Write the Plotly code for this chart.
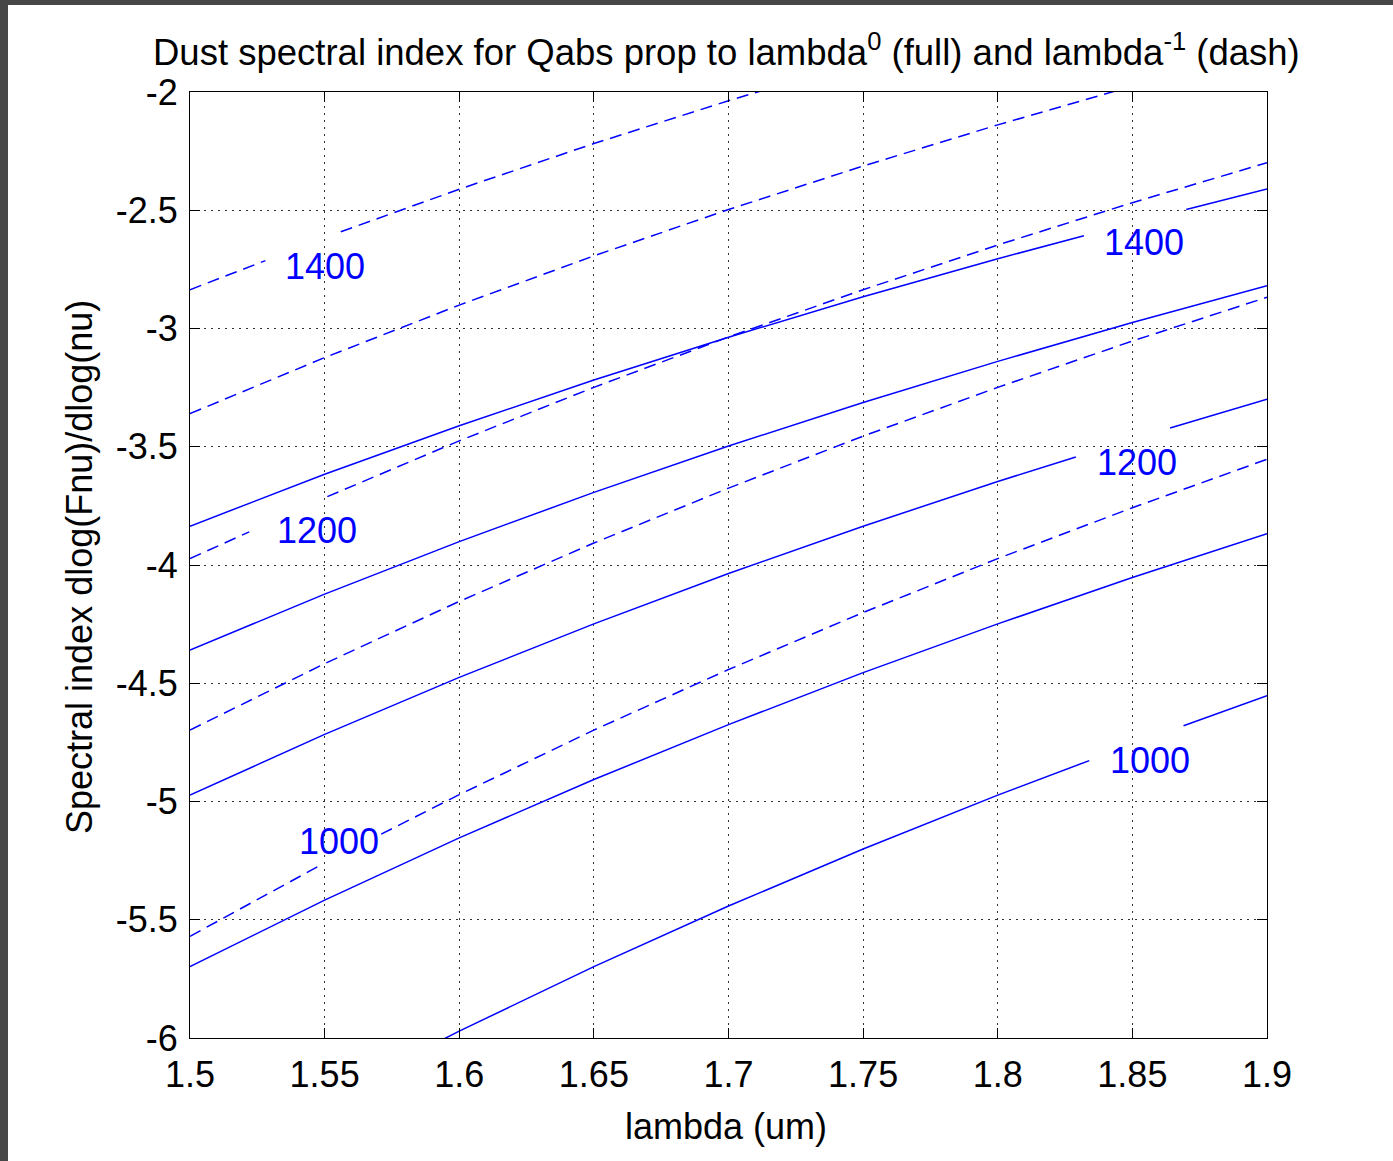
import plotly.graph_objects as go

# ---------------- data ----------------
# Solid lines: Qabs proportional to lambda^0   (None = label gap)
lam_s1400 = [1.50, 1.55, 1.60, 1.65, 1.70, 1.75, 1.80, 1.832, None, 1.870, 1.90]
idx_s1400 = [-3.836, -3.616, -3.411, -3.218, -3.037, -2.866, -2.705, -2.608, None, -2.497, -2.410]

lam_s1300 = [1.50, 1.55, 1.60, 1.65, 1.70, 1.75, 1.80, 1.85, 1.90]
idx_s1300 = [-4.360, -4.123, -3.901, -3.693, -3.497, -3.313, -3.139, -2.975, -2.819]

lam_s1200 = [1.50, 1.55, 1.60, 1.65, 1.70, 1.75, 1.80, 1.829, None, 1.864, 1.90]
idx_s1200 = [-4.973, -4.716, -4.475, -4.249, -4.036, -3.836, -3.647, -3.543, None, -3.421, -3.299]

lam_s1100 = [1.50, 1.55, 1.60, 1.65, 1.70, 1.75, 1.80, 1.85, 1.90]
idx_s1100 = [-5.698, -5.417, -5.154, -4.907, -4.675, -4.455, -4.249, -4.053, -3.868]

lam_s1000 = [1.55, 1.60, 1.65, 1.70, 1.75, 1.80, 1.834, None, 1.869, 1.90]
idx_s1000 = [-6.260, -5.971, -5.698, -5.442, -5.201, -4.973, -4.827, None, -4.680, -4.553]

# Dashed lines: Qabs proportional to lambda^-1
lam_d1400 = [1.50, 1.528, None, 1.556, 1.60, 1.65, 1.70, 1.75]
idx_d1400 = [-2.836, -2.713, None, -2.591, -2.411, -2.218, -2.037, -1.866]

lam_d1300 = [1.50, 1.55, 1.60, 1.65, 1.70, 1.75, 1.80, 1.85]
idx_d1300 = [-3.360, -3.123, -2.901, -2.693, -2.497, -2.313, -2.139, -1.975]

lam_d1200 = [1.50, 1.522, None, 1.551, 1.60, 1.65, 1.70, 1.75, 1.80, 1.85, 1.90]
idx_d1200 = [-3.973, -3.860, None, -3.711, -3.475, -3.249, -3.036, -2.836, -2.647, -2.468, -2.299]

lam_d1100 = [1.50, 1.55, 1.60, 1.65, 1.70, 1.75, 1.80, 1.85, 1.90]
idx_d1100 = [-4.698, -4.417, -4.154, -3.907, -3.675, -3.455, -3.249, -3.053, -2.868]

lam_d1000 = [1.50, 1.548, None, 1.571, 1.60, 1.65, 1.70, 1.75, 1.80, 1.85, 1.90]
idx_d1000 = [-5.570, -5.272, None, -5.138, -4.971, -4.698, -4.442, -4.201, -3.973, -3.758, -3.553]

# contour labels
label_text = ["1400", "1200", "1000", "1400", "1200", "1000"]

# ticks
x_tick_vals = [1.5, 1.55, 1.6, 1.65, 1.7, 1.75, 1.8, 1.85, 1.9]
x_tick_text = ["1.5", "1.55", "1.6", "1.65", "1.7", "1.75", "1.8", "1.85", "1.9"]
y_tick_vals = [-2, -2.5, -3, -3.5, -4, -4.5, -5, -5.5, -6]
y_tick_text = ["-2", "-2.5", "-3", "-3.5", "-4", "-4.5", "-5", "-5.5", "-6"]

# ---------------- figure ----------------
FONT = "Liberation Sans, Arial, Helvetica, sans-serif"
BLUE = "#0000ff"

solid = [(lam_s1400, idx_s1400), (lam_s1300, idx_s1300), (lam_s1200, idx_s1200),
         (lam_s1100, idx_s1100), (lam_s1000, idx_s1000)]
dashed = [(lam_d1400, idx_d1400), (lam_d1300, idx_d1300), (lam_d1200, idx_d1200),
          (lam_d1100, idx_d1100), (lam_d1000, idx_d1000)]

fig = go.Figure()
for lx, ly in solid:
    fig.add_trace(go.Scatter(x=lx, y=ly, mode="lines", connectgaps=False,
                             line=dict(color=BLUE, width=1.5), showlegend=False,
                             hoverinfo="skip"))
for lx, ly in dashed:
    fig.add_trace(go.Scatter(x=lx, y=ly, mode="lines", connectgaps=False,
                             line=dict(color=BLUE, width=1.5, dash="12px,7px"),
                             showlegend=False, hoverinfo="skip"))

label_pos = [(1.5501, -2.738), (1.5470, -3.852), (1.5552, -5.167),
             (1.8543, -2.636), (1.8517, -3.565), (1.8564, -4.825)]
for t, (lx, ly) in zip(label_text, label_pos):
    fig.add_annotation(x=lx, y=ly, xref="x", yref="y", text=t, showarrow=False,
                       font=dict(family=FONT, size=36, color=BLUE),
                       xanchor="center", yanchor="middle")

# title and axis titles
fig.add_annotation(x=0.4977, y=1.0, xref="paper", yref="paper", yshift=42,
                   text="Dust spectral index for Qabs prop to lambda<sup>0</sup> (full) and lambda<sup>-1</sup> (dash)",
                   showarrow=False, font=dict(family=FONT, size=36.5, color="black"),
                   xanchor="center", yanchor="middle")
fig.add_annotation(x=0.4977, y=(1038 - 1126) / 946, xref="paper", yref="paper",
                   text="lambda (um)", showarrow=False,
                   font=dict(family=FONT, size=36, color="black"),
                   xanchor="center", yanchor="middle")
fig.add_annotation(x=(79 - 190) / 1077, y=(1038 - 567) / 946, xref="paper", yref="paper",
                   text="Spectral index dlog(Fnu)/dlog(nu)", textangle=-90, showarrow=False,
                   font=dict(family=FONT, size=36, color="black"),
                   xanchor="center", yanchor="middle")

# dark frame strips at the left and top of the screenshot
fig.add_shape(type="rect", xref="paper", yref="paper",
              x0=-190 / 1077, x1=(8 - 190) / 1077, y0=(1038 - 1161) / 946, y1=1038 / 946,
              fillcolor="#474747", line=dict(width=0), layer="above")
fig.add_shape(type="rect", xref="paper", yref="paper",
              x0=-190 / 1077, x1=(1393 - 190) / 1077, y0=(1038 - 5) / 946, y1=1038 / 946,
              fillcolor="#474747", line=dict(width=0), layer="above")

axis_common = dict(showline=True, linecolor="black", linewidth=1, mirror="ticks",
                   ticks="inside", ticklen=10, tickwidth=1, tickcolor="black",
                   showgrid=True, gridcolor="#333333", gridwidth=1, griddash="2px,5px",
                   zeroline=False, tickfont=dict(family=FONT, size=36, color="black"))

fig.update_xaxes(range=[1.5, 1.9], tickvals=x_tick_vals, ticktext=x_tick_text,
                 ticklabelstandoff=5, **axis_common)
fig.update_yaxes(range=[-6, -2], tickvals=y_tick_vals, ticktext=y_tick_text,
                 ticklabelstandoff=4, **axis_common)

fig.update_layout(width=1393, height=1161,
                  margin=dict(l=190, r=126, t=92, b=123, autoexpand=False),
                  paper_bgcolor="white", plot_bgcolor="white",
                  font=dict(family=FONT, size=36, color="black"))

fig.write_html("out.html")
